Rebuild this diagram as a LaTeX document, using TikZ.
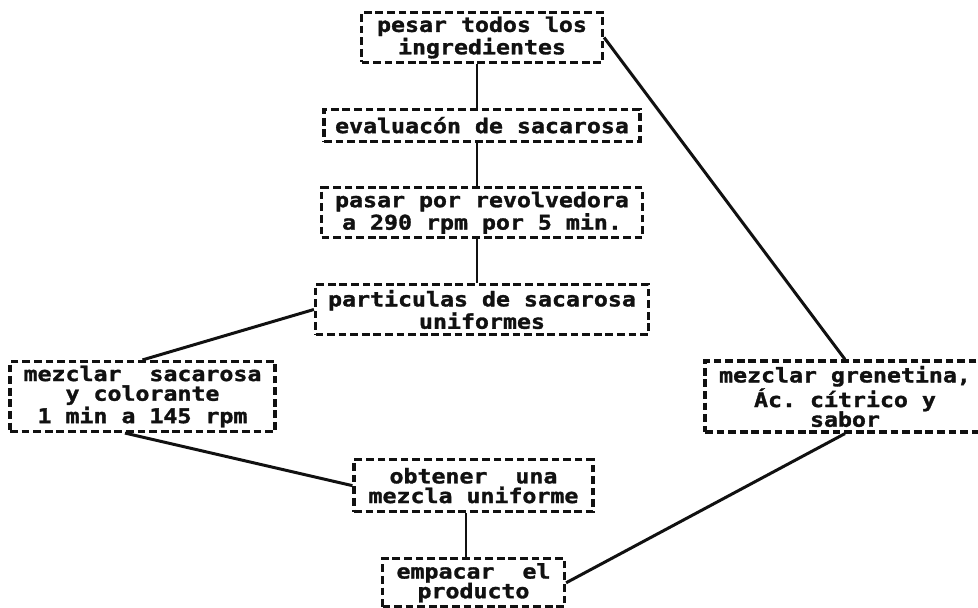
\documentclass[tikz,border=0pt]{standalone}
\usepackage{fontspec}
\setmonofont{DejaVu Sans Mono}[FakeStretch=1.15,BoldFeatures={FakeBold=1.5}]
\usetikzlibrary{positioning}
\definecolor{ink}{HTML}{111111}
\tikzset{
  paso/.style={rectangle,draw=ink,line width=1.8pt,dash pattern=on 4.4pt off 2.2pt,align=center,inner xsep=3pt,inner ysep=1pt,
    font=\ttfamily\bfseries\fontsize{11.5}{11.2}\selectfont,text=ink},
  linea/.style={line width=1.7pt,ink}
}
\begin{document}
\begin{tikzpicture}[node distance=0.87cm]
    \useasboundingbox[fill=white] (0,0) rectangle (19.56,-12.16);
    \node[paso,minimum width=4.82cm,minimum height=1.0cm] (pesar) at (9.64,-0.75) {pesar todos los\\ingredientes};
    \node[paso,below=of pesar,minimum width=6.32cm,minimum height=0.64cm] (eval) {evaluacón de sacarosa};
    \node[paso,below=of eval,minimum width=6.42cm,minimum height=1.0cm] (revol) {pasar por revolvedora\\a 290 rpm por 5 min.};
    \node[paso,below=of revol,minimum width=6.66cm,minimum height=1.0cm] (part) {particulas de sacarosa\\uniformes};
    \node[paso,minimum width=5.3cm,minimum height=1.4cm] (mezsac) at (2.85,-7.93) {mezclar\ \ sacarosa\\y colorante\\1 min a 145 rpm};
    \node[paso,minimum width=5.6cm,minimum height=1.42cm] (mezgren) at (16.9,-7.93) {mezclar grenetina,\\Ác. cítrico y\\sabor};
    \node[paso,below=2.44cm of part,xshift=-0.17cm,minimum width=4.78cm,minimum height=1.04cm] (obt) {obtener\ \ una\\mezcla uniforme};
    \node[paso,below=0.88cm of obt,minimum width=3.64cm,minimum height=0.96cm] (emp) {empacar\ \ el\\producto};
    \draw[linea] ([xshift=-0.1cm]pesar.south) -- ([xshift=-0.1cm]pesar.south |- eval.north);
    \draw[linea] ([xshift=-0.1cm]eval.south) -- ([xshift=-0.1cm]eval.south |- revol.north);
    \draw[linea] ([xshift=-0.1cm]revol.south) -- ([xshift=-0.1cm]revol.south |- part.north);
    \draw[linea] (part.west) -- (mezsac.north);
    \draw[linea] (pesar.east) -- (mezgren.north);
    \draw[linea] ([xshift=-0.35cm]mezsac.south) -- (obt.west);
    \draw[linea] (mezgren.south) -- (emp.east);
    \draw[linea] ([xshift=-0.15cm]obt.south) -- ([xshift=-0.15cm]obt.south |- emp.north);
  \end{tikzpicture}
\end{document}
